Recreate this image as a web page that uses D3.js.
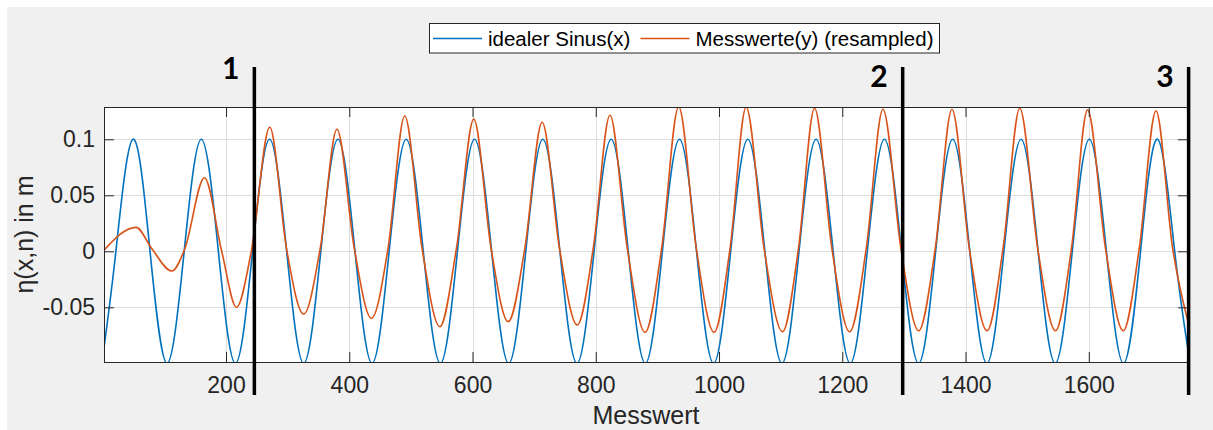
<!DOCTYPE html>
<html>
<meta charset="utf-8">

<style>
    body{
        margin: 0;
        background: #fff;
    }
    svg{
        display: block;
        font-family: "Liberation Sans", Arial, sans-serif;
    }
</style>
<body>
<svg width="1213" height="430"></svg>
<script src="https://d3js.org/d3.v7.min.js"></script>
<script>

    // Achsenbeschriftung
    let xTicks = [200, 400, 600, 800, 1000, 1200, 1400, 1600];
    let yTicks = [-0.05, 0, 0.05, 0.1];
    let yTickLabels = ["-0.05", "0", "0.05", "0.1"];
    let seriesNames = ["idealer Sinus(x)", "Messwerte(y) (resampled)"];

    // idealer Sinus: Scheitel, Nulldurchgaenge, Taeler
    let sinusX = [1, 21.3,
        49, 76.7, 104.4, 132.1, 159.9, 187.6, 215.3, 243.0,
        270.7, 298.4, 326.1, 353.8, 381.6, 409.3, 437.0, 464.7,
        492.4, 520.1, 547.8, 575.5, 603.3, 631.0, 658.7, 686.4,
        714.1, 741.8, 769.5, 797.2, 825.0, 852.7, 880.4, 908.1,
        935.8, 963.5, 991.2, 1018.9, 1046.7, 1074.4, 1102.1, 1129.8,
        1157.5, 1185.2, 1212.9, 1240.6, 1268.4, 1296.1, 1323.8, 1351.5,
        1379.2, 1406.9, 1434.6, 1462.3, 1490.1, 1517.8, 1545.5, 1573.2,
        1600.9, 1628.6, 1656.3, 1684.0, 1711.7, 1739.4, 1761];
    let sinusY = [-0.09, 0,
        0.1, 0, -0.1, 0, 0.1, 0, -0.1, 0,
        0.1, 0, -0.1, 0, 0.1, 0, -0.1, 0,
        0.1, 0, -0.1, 0, 0.1, 0, -0.1, 0,
        0.1, 0, -0.1, 0, 0.1, 0, -0.1, 0,
        0.1, 0, -0.1, 0, 0.1, 0, -0.1, 0,
        0.1, 0, -0.1, 0, 0.1, 0, -0.1, 0,
        0.1, 0, -0.1, 0, 0.1, 0, -0.1, 0,
        0.1, 0, -0.1, 0, 0.1, 0, -0.088];

    // Messwerte (resampled)
    let messX = [2, 54, 80, 112, 133, 165, 193, 217, 241,
        271, 298, 326, 353, 380, 408, 436, 463,
        490, 518, 547, 574, 602, 630, 658, 685,
        713, 741, 770, 796, 823, 851, 880, 907,
        934.5, 963, 992, 1018, 1044, 1073, 1103, 1129,
        1155, 1183, 1212, 1239, 1266, 1295, 1324, 1351,
        1378, 1406, 1435, 1461, 1488, 1517, 1546, 1572,
        1598, 1627, 1656, 1682, 1709, 1736, 1761];
    let messY = [0.001, 0.0214, 0.002, -0.0176, 0.002, 0.0657, 0, -0.050, 0,
        0.1107, 0.003, -0.056, 0.003, 0.109, 0.003, -0.0598, 0.003,
        0.1208, 0.003, -0.0673, 0.003, 0.118, 0.003, -0.0628, 0.003,
        0.1152, 0.003, -0.0658, 0.003, 0.1214, 0.003, -0.0723, 0.003,
        0.129, 0.003, -0.0723, 0.003, 0.1286, 0.003, -0.0718, 0.003,
        0.1277, 0.003, -0.0718, 0.003, 0.1268, 0.003, -0.0709, 0.003,
        0.1268, 0.003, -0.0709, 0.003, 0.1277, 0.003, -0.0709, 0.003,
        0.1262, 0.003, -0.0709, 0.003, 0.1253, 0.003, -0.063];

    // Markierungen
    let markerX = [246, 1298, 1762];
    let markerLabels = ["1", "2", "3"];

    let svg = d3.select("svg"),
        plot = {left: 104, right: 1188, top: 107, bottom: 362},
        axisColor = "#262626",
        colors = ["#0072BD", "#D95319"];

    let x = d3.scaleLinear().domain([2, 1761]).range([plot.left, plot.right]);
    let y = d3.scaleLinear().domain([-0.0988, 0.1288]).range([plot.bottom, plot.top]);

    // Hintergrund
    svg.append("rect")
        .attr("x", 7).attr("y", 7)
        .attr("width", 1213 - 7).attr("height", 430 - 7)
        .attr("fill", "#f0f0f0");

    svg.append("rect")
        .attr("x", plot.left).attr("y", plot.top)
        .attr("width", plot.right - plot.left).attr("height", plot.bottom - plot.top)
        .attr("fill", "#fff");

    svg.append("clipPath").attr("id", "clip")
        .append("rect")
        .attr("x", plot.left).attr("y", plot.top)
        .attr("width", plot.right - plot.left).attr("height", plot.bottom - plot.top);

    // Gitter
    let grid = svg.append("g").attr("stroke", "#dedede").attr("stroke-width", 1);
    grid.selectAll(".gx").data(xTicks).enter().append("line")
        .attr("x1", d => Math.round(x(d)) + 0.5).attr("x2", d => Math.round(x(d)) + 0.5)
        .attr("y1", plot.top).attr("y2", plot.bottom);
    grid.selectAll(".gy").data(yTicks).enter().append("line")
        .attr("y1", d => Math.round(y(d)) + 0.5).attr("y2", d => Math.round(y(d)) + 0.5)
        .attr("x1", plot.left).attr("x2", plot.right);

    // Kurven
    let sinusLine = d3.line()
        .x(d => x(d[0]))
        .y(d => y(d[1]))
        .curve(d3.curveNatural);
    let messLine = d3.line()
        .x(d => x(d[0]))
        .y(d => y(d[1]))
        .curve(d3.curveMonotoneX);

    let curves = svg.append("g").attr("clip-path", "url(#clip)");
    curves.append("path")
        .datum(d3.zip(sinusX, sinusY))
        .attr("d", sinusLine)
        .attr("fill", "none")
        .attr("stroke", colors[0])
        .attr("stroke-width", 1.6);
    curves.append("path")
        .datum(d3.zip(messX, messY))
        .attr("d", messLine)
        .attr("fill", "none")
        .attr("stroke", colors[1])
        .attr("stroke-width", 1.6);

    // Achsen (Ticks nach innen)
    function styleAxis(g) {
        g.select(".domain").remove();
        g.selectAll(".tick line").attr("stroke", axisColor);
        g.selectAll(".tick text")
            .attr("fill", axisColor)
            .attr("font-size", 23)
            .attr("font-family", "Liberation Sans, Arial, sans-serif");
    }

    svg.append("g")
        .attr("transform", "translate(0," + plot.bottom + ")")
        .call(d3.axisBottom(x).tickValues(xTicks).tickSize(-10).tickPadding(15).tickSizeOuter(0)
            .tickFormat(d3.format("d")))
        .call(styleAxis);
    svg.append("g")
        .attr("transform", "translate(0," + plot.top + ")")
        .call(d3.axisTop(x).tickValues(xTicks).tickSize(-10).tickFormat("").tickSizeOuter(0))
        .call(styleAxis);
    svg.append("g")
        .attr("transform", "translate(" + plot.left + ",0)")
        .call(d3.axisLeft(y).tickValues(yTicks).tickSize(-10).tickPadding(9).tickSizeOuter(0)
            .tickFormat((d, i) => yTickLabels[i]))
        .call(styleAxis);
    svg.append("g")
        .attr("transform", "translate(" + plot.right + ",0)")
        .call(d3.axisRight(y).tickValues(yTicks).tickSize(-10).tickFormat("").tickSizeOuter(0))
        .call(styleAxis);

    svg.append("rect")
        .attr("x", plot.left + 0.5).attr("y", plot.top + 0.5)
        .attr("width", plot.right - plot.left).attr("height", plot.bottom - plot.top)
        .attr("fill", "none")
        .attr("stroke", axisColor)
        .attr("stroke-width", 1);

    // Achsentitel
    svg.append("text")
        .attr("x", (plot.left + plot.right) / 2)
        .attr("y", 424)
        .attr("text-anchor", "middle")
        .attr("font-size", 25)
        .attr("fill", axisColor)
        .text("Messwert");

    svg.append("text")
        .attr("transform", "translate(33," + (plot.top + plot.bottom) / 2 + ") rotate(-90)")
        .attr("text-anchor", "middle")
        .attr("font-size", 25)
        .attr("fill", axisColor)
        .text("\u03b7(x,n) in m");

    // Legende
    let legend = svg.append("g").attr("font-size", 20.5).attr("fill", "#000");
    let legendBox = legend.append("rect")
        .attr("x", 429.5).attr("y", 23.5)
        .attr("height", 29.5)
        .attr("fill", "#fff")
        .attr("stroke", axisColor)
        .attr("stroke-width", 1);
    let lx = 433;
    seriesNames.forEach(function (name, i) {
        legend.append("line")
            .attr("x1", lx).attr("x2", lx + 49)
            .attr("y1", 38.5).attr("y2", 38.5)
            .attr("stroke", colors[i])
            .attr("stroke-width", 1.3);
        let t = legend.append("text")
            .attr("x", lx + 55)
            .attr("y", 46)
            .text(name);
        lx = lx + 55 + t.node().getComputedTextLength() + 10;
    });
    legendBox.attr("width", lx - 10 + 6 - 429.5);

    // Markierungen 1, 2, 3
    let labelBase = [79, 87, 87];
    markerX.forEach(function (m, i) {
        svg.append("line")
            .attr("x1", x(m)).attr("x2", x(m))
            .attr("y1", 67).attr("y2", 395)
            .attr("stroke", "#000")
            .attr("stroke-width", 3.5);
        svg.append("text")
            .attr("x", x(m) - 15)
            .attr("y", labelBase[i])
            .attr("text-anchor", "end")
            .attr("font-family", "Lato, 'DejaVu Sans', sans-serif")
            .attr("font-weight", "bold")
            .attr("font-size", 30)
            .attr("fill", "#000")
            .text(markerLabels[i]);
    });

</script>
</body>

</html>
